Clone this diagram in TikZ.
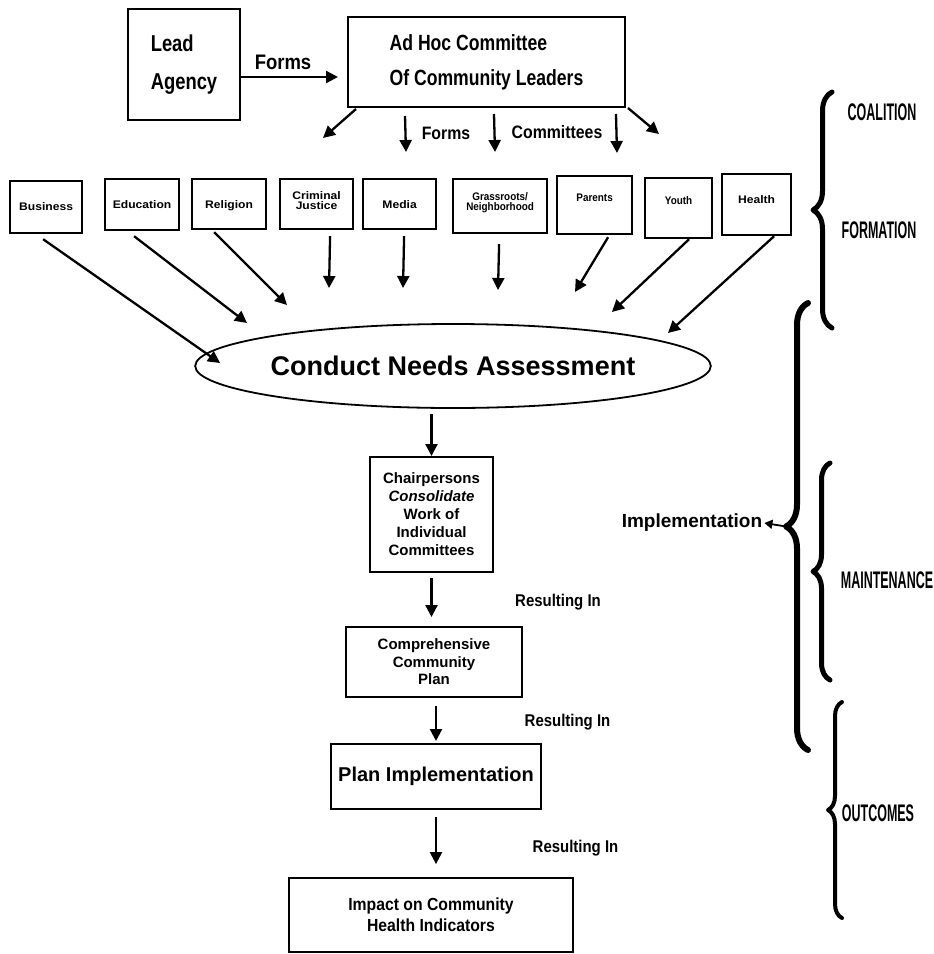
\documentclass[tikz,border=0pt]{standalone}
\usepackage{fontspec}
\setmainfont{Liberation Sans}
\newfontfamily\fa{Liberation Sans}[FakeStretch=0.8]
\newfontfamily\fb{Liberation Sans}[FakeStretch=0.88]
\newfontfamily\fr{Liberation Sans}[FakeStretch=0.52]
\newfontfamily\fw{Liberation Sans}[FakeStretch=1.1]
\newfontfamily\fn{Liberation Sans}[FakeStretch=0.9]
\usetikzlibrary{arrows.meta,shapes.geometric,decorations.pathreplacing}
\newcommand\twol[2]{\vtop{\baselineskip=10pt\lineskiplimit=-20pt\lineskip=0pt\halign{\hfil##\hfil\cr#1\cr#2\cr}}}
\begin{document}
\begin{tikzpicture}[x=1pt,y=-1pt,
  arr/.style={line width=2.3pt,-{Triangle[length=12pt,width=12pt]}},
  arrs/.style={line width=1.8pt,-{Triangle[length=8pt,width=9pt]}},
  bigbox/.style={draw,line width=2pt,inner sep=0pt},
  cbox/.style={draw,line width=2.2pt,inner sep=0pt,anchor=north west,font=\fw\bfseries\fontsize{11}{10}\selectfont},
  cboxn/.style={cbox,font=\fn\bfseries\fontsize{11}{10}\selectfont},
  lbl/.style={inner sep=0pt,font=\fb\bfseries\fontsize{18}{18}\selectfont},
  rlbl/.style={inner sep=0pt,font=\fb\bfseries\fontsize{17}{17}\selectfont},
  side/.style={inner sep=0pt,font=\fr\bfseries\fontsize{24}{24}\selectfont},
  brc/.style={line width=5pt,line cap=round,line join=round,decorate}]
\fill[white] (0,0) rectangle (934,954);
\useasboundingbox (0,0) rectangle (934,954);

% top boxes
\node[bigbox,minimum width=112,minimum height=111,align=left,
  font=\fa\bfseries\fontsize{23}{38}\selectfont] (lead) at (184,64.5) {Lead\\Agency};
\node[bigbox,minimum width=277,minimum height=90,align=left,
  font=\fa\bfseries\fontsize{22}{35}\selectfont] (adhoc) at (486.5,62) {Ad Hoc Committee\\Of Community Leaders};
\coordinate (la) at ([shift={(0,12.5)}]lead.east);
\draw[arr,shorten >=9pt] (la) -- (la -| adhoc.west);
\node[inner sep=0pt,font=\fb\bfseries\fontsize{21}{21}\selectfont] (formsA) at (283,62) {Forms};

% arrows from ad hoc committee
\coordinate (a1) at (323,138);
\coordinate (a2) at (406,152);
\coordinate (a3) at (495,152);
\coordinate (a4) at (617,153);
\coordinate (a5) at (659,134);
\draw[arr] ([shift={(9,1)}]adhoc.south west) -- (a1);
\draw[arr] ([shift={(58,8)}]adhoc.south west) -- (a2);
\draw[arr] ([shift={(147,6)}]adhoc.south west) -- (a3);
\draw[arr] ([shift={(269,6)}]adhoc.south west) -- (a4);
\draw[arr] ([shift={(2,0)}]adhoc.south east) -- (a5);
\node[lbl] (formsB) at (446,133) {Forms};
\node[lbl] (comms) at (557,132) {Committees};

% committee boxes
\node[cbox,minimum width=72,text height=29,text depth=23] (business) at (9,180) {Business};
\node[cbox,minimum width=74,text height=29,text depth=22] (education) at (104,178) {Education};
\node[cbox,minimum width=74,text height=29,text depth=21] (religion) at (191,178) {Religion};
\node[cbox,minimum width=73,text height=20,text depth=30] (criminal) at (279,178) {\twol{Criminal}{Justice}};
\node[cbox,minimum width=73,text height=29,text depth=21] (media) at (362,178) {Media};
\node[cboxn,minimum width=94,text height=21,text depth=33] (grass) at (452,178) {\twol{Grassroots/}{Neighborhood}};
\node[cboxn,minimum width=75,text height=25,text depth=33] (parents) at (556,175) {Parents};
\node[cboxn,minimum width=67,text height=26,text depth=34] (youth) at (644,177) {Youth};
\node[cbox,minimum width=69,text height=29,text depth=32] (health) at (721,173) {Health};

% needs assessment
\node[ellipse,draw,line width=1.8pt,minimum width=451,minimum height=84,inner sep=0pt,
  font=\bfseries\fontsize{27}{27}\selectfont] (needs) at (453,366) {Conduct Needs Assessment};

\coordinate (tB) at (220,363);
\coordinate (tE) at (247,323);
\coordinate (tR) at (287,305);
\coordinate (tC) at (329,288);
\coordinate (tM) at (403,288);
\coordinate (tG) at (498,290);
\coordinate (tP) at (575,292);
\coordinate (tY) at (612,312);
\coordinate (tH) at (668,333);
\draw[arr] ([shift={(-3,5)}]business.south) -- (tB);
\draw[arr] ([shift={(-8,5)}]education.south) -- (tE);
\draw[arr] ([shift={(-15,2)}]religion.south) -- (tR);
\draw[arr] ([shift={(13.5,6)}]criminal.south) -- (tC);
\draw[arr] ([shift={(4.5,6)}]media.south) -- (tM);
\draw[arr] ([shift={(-1,10)}]grass.south) -- (tG);
\draw[arr] ([shift={(13.5,2)}]parents.south) -- (tP);
\draw[arr] ([shift={(10.5,0)}]youth.south) -- (tY);
\draw[arr] ([shift={(17.5,0)}]health.south) -- (tH);

% chain
\node[bigbox,minimum width=123,minimum height=115,align=center,
  font=\bfseries\fontsize{15}{18}\selectfont] (chair) at (431.5,514.5)
  {Chairpersons\\\textit{Consolidate}\\Work of\\Individual\\Committees};
\node[bigbox,minimum width=176,minimum height=70,align=center,
  font=\bfseries\fontsize{15}{17.5}\selectfont] (comp) at (434,662)
  {Comprehensive\\Community\\Plan};
\node[bigbox,minimum width=210,minimum height=65,
  font=\bfseries\fontsize{20}{20}\selectfont] (plan) at (436,776.5) {Plan Implementation};
\node[bigbox,line width=1.8pt,minimum width=284,minimum height=74,align=center,
  font=\fn\bfseries\fontsize{17.5}{21}\selectfont] (impact) at (431,915)
  {Impact on Community\\Health Indicators};

\coordinate (n1) at (needs.south -| chair.north);
\draw[arr,shorten <=5pt] (n1) -- (chair.north);
\draw[arr,shorten <=5pt,shorten >=9pt] (chair.south) -- (chair.south |- comp.north);
\draw[arr,shorten <=8pt,shorten >=2pt] (comp.south -| plan.north) -- (plan.north);
\draw[arr,shorten <=7pt,shorten >=13pt] (plan.south) -- (plan.south |- impact.north);

\node[rlbl] (res1) at (558,602) {Resulting In};
\node[rlbl] (res2) at (567.5,722) {Resulting In};
\node[rlbl] (res3) at (575.5,848) {Resulting In};

% braces on the right
\coordinate (cfB) at (832,328);
\coordinate (cfT) at (832,92);
\draw[brc,decoration={brace,amplitude=19pt}] (cfB) -- (cfT);
\node[side] (coal) at (882,112) {COALITION};
\node[side] (form) at (879,230) {FORMATION};

\coordinate (imB) at (808,750);
\coordinate (imT) at (808,303);
\coordinate (imTip) at (786,526.5);
\draw[brc,line width=6pt,decoration={brace,amplitude=22pt}] (imB) -- (imT);
\node[inner sep=0pt,font=\bfseries\fontsize{19}{19}\selectfont] (impl) at (692,523) {Implementation};
\draw[arrs] (imTip) -- ([xshift=2pt]impl.east);

\coordinate (mB) at (830,680);
\coordinate (mT) at (830,463);
\draw[brc,decoration={brace,amplitude=17pt}] (mB) -- (mT);
\node[side] (maint) at (887,580) {MAINTENANCE};

\coordinate (oB) at (842,918);
\coordinate (oT) at (842,702);
\draw[brc,line width=4pt,decoration={brace,amplitude=14pt}] (oB) -- (oT);
\node[side] (outc) at (878,813) {OUTCOMES};
\end{tikzpicture}
\end{document}
